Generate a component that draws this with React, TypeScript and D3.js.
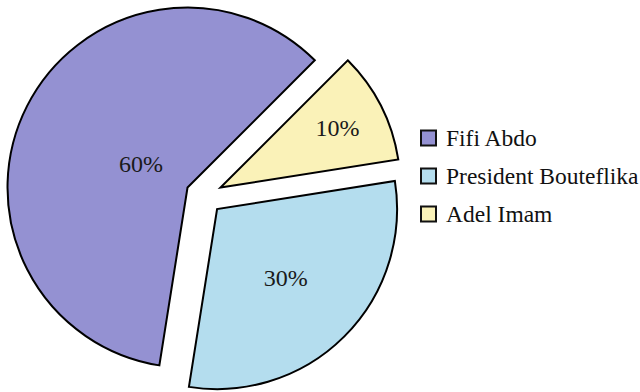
import React from "react";
import * as d3 from "d3";

const categories = ["Fifi Abdo", "President Bouteflika", "Adel Imam"];
const values = [60, 30, 10];
const valueLabels = ["60%", "30%", "10%"];

const colors = ["#9491D2", "#B4DDEE", "#FAF2B8"];
const labelRadiusFrac = [0.29, 0.54, 0.73];

const W = 640;
const H = 392;
const CX = 204;
const CY = 196;
const R = 180;
const EXPLODE = 18.5;
const FONT = "Liberation Serif, Times New Roman, serif";

export default function App() {
  const pie = d3
    .pie<number>()
    .sort(null)
    .startAngle(Math.PI / 4)
    .endAngle(Math.PI / 4 - 2 * Math.PI)
    .value((d) => d);
  const arcs = pie(values);
  const arc = d3.arc<d3.PieArcDatum<number>>().innerRadius(0).outerRadius(R);

  const legendY = d3.scalePoint<string>().domain(categories).range([138, 214]);

  return (
    <svg
      width={W}
      height={H}
      style={{ position: "absolute", left: 0, top: 0, background: "#fff", fontFamily: FONT }}
    >
      {arcs.map((a, i) => {
        const mid = (a.startAngle + a.endAngle) / 2;
        const ox = CX + EXPLODE * Math.sin(mid);
        const oy = CY - EXPLODE * Math.cos(mid);
        const lr = R * labelRadiusFrac[i];
        const lx = lr * Math.sin(mid);
        const ly = -lr * Math.cos(mid);
        return (
          <g key={categories[i]} transform={`translate(${ox},${oy})`}>
            <path
              d={arc(a) || ""}
              fill={colors[i]}
              stroke="#000"
              strokeWidth={2}
              strokeLinejoin="miter"
            />
            <text
              x={lx}
              y={ly}
              dy="0.35em"
              textAnchor="middle"
              fontSize={24}
              fill="#1a1a1a"
            >
              {valueLabels[i]}
            </text>
          </g>
        );
      })}
      {categories.map((c, i) => {
        const y = legendY(c) as number;
        return (
          <g key={c}>
            <rect
              x={421}
              y={y - 7.5}
              width={15}
              height={15}
              fill={colors[i]}
              stroke="#111"
              strokeWidth={2}
            />
            <text x={446} y={y + 7.5} fontSize={23.5} fill="#111">
              {c}
            </text>
          </g>
        );
      })}
    </svg>
  );
}
